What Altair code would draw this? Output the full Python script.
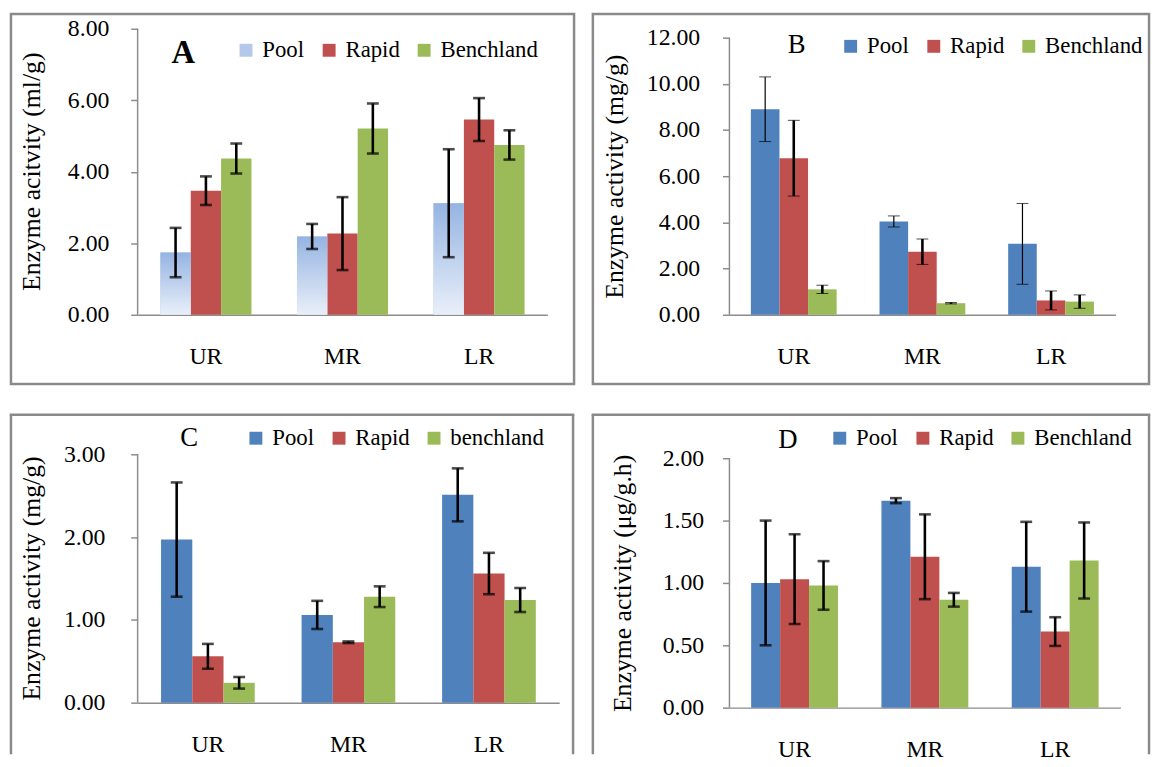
import altair as alt
import pandas as pd

FONT = "Liberation Serif"

categories = ["UR", "MR", "LR"]
series_std = ["Pool", "Rapid", "Benchland"]
series_c = ["Pool", "Rapid", "benchland"]

# Panel A (ml/g)
a_pool = [1.74, 2.19, 3.12]
a_pool_err = [0.69, 0.35, 1.51]
a_rapid = [3.47, 2.27, 5.46]
a_rapid_err = [0.40, 1.02, 0.60]
a_bench = [4.37, 5.21, 4.75]
a_bench_err = [0.42, 0.70, 0.41]

# Panel B (mg/g)
b_pool = [8.90, 4.04, 3.07]
b_pool_err = [1.40, 0.24, 1.75]
b_rapid = [6.78, 2.73, 0.62]
b_rapid_err = [1.64, 0.55, 0.41]
b_bench = [1.10, 0.50, 0.57]
b_bench_err = [0.18, 0.03, 0.29]

# Panel C (mg/g)
c_pool = [1.97, 1.06, 2.51]
c_pool_err = [0.69, 0.17, 0.32]
c_rapid = [0.56, 0.73, 1.56]
c_rapid_err = [0.15, 0.01, 0.25]
c_bench = [0.24, 1.28, 1.24]
c_bench_err = [0.07, 0.125, 0.145]

# Panel D (ug/g.h)
d_pool = [1.00, 1.66, 1.13]
d_pool_err = [0.50, 0.02, 0.36]
d_rapid = [1.03, 1.21, 0.61]
d_rapid_err = [0.36, 0.34, 0.115]
d_bench = [0.98, 0.865, 1.18]
d_bench_err = [0.195, 0.055, 0.305]

COLORS = ["#4f81bd", "#c0504d", "#9bbb59"]
COLORS_A = ["#b3c8ea", "#c0504d", "#9bbb59"]
AXIS_GRAY = "#8c8c8c"
FRAME_GRAY = "#8a8a8a"


def make_df(names, means, errs):
    rows = []
    for s, m, e in zip(names, means, errs):
        for c, v, d in zip(categories, m, e):
            rows.append({"cat": c, "series": s, "value": v, "lo": v - d, "hi": v + d})
    return pd.DataFrame(rows)


one = pd.DataFrame({"k": [0]})


def frame(geo):
    if geo["closed"]:
        return [alt.Chart(one).mark_rect(filled=False, stroke=FRAME_GRAY, strokeWidth=2.5).encode(
            x=alt.value(geo["bl"]), x2=alt.value(geo["br"]),
            y=alt.value(geo["bt"]), y2=alt.value(geo["bb"]))]
    # frame that runs off the bottom of the picture: left, top and right sides only
    r = dict(color=FRAME_GRAY, strokeWidth=2.5)
    return [
        alt.Chart(one).mark_rule(**r).encode(
            x=alt.value(geo["bl"]), y=alt.value(geo["bt"]), y2=alt.value(geo["bb"])),
        alt.Chart(one).mark_rule(**r).encode(
            x=alt.value(geo["br"]), y=alt.value(geo["bt"]), y2=alt.value(geo["bb"])),
        alt.Chart(one).mark_rule(**r).encode(
            x=alt.value(geo["bl"] - 1.25), x2=alt.value(geo["br"] + 1.25),
            y=alt.value(geo["bt"])),
    ]


def panel(df, names, colors, ymax, ystep, ytitle, letter, bold, geo,
          gradient_pool=False, thin_pool=False):
    w, h = geo["w"], geo["h"]
    x = alt.X("cat:N", sort=categories,
              scale=alt.Scale(paddingInner=1 / 3, paddingOuter=1 / 6),
              axis=alt.Axis(title=None, labelAngle=0, ticks=False, labelPadding=geo["xlp"],
                            labelFont=FONT, labelFontSize=24, labelColor="black",
                            domainColor=AXIS_GRAY, domainWidth=1.5, grid=False))
    xo = alt.XOffset("series:N", sort=names,
                     scale=alt.Scale(domain=names, paddingInner=0, paddingOuter=0))
    ticks_vals = []
    v = 0.0
    while v <= ymax + 1e-9:
        ticks_vals.append(round(v, 4))
        v += ystep
    # scale top stretched so that the plot tops of each row line up
    yscale = alt.Scale(domain=[0, ymax * geo["stretch"]], nice=False, zero=True)
    y = alt.Y("value:Q", scale=yscale,
              axis=alt.Axis(title=ytitle, values=ticks_vals, format=".2f", grid=False,
                            domain=False,
                            tickSize=7, tickColor=AXIS_GRAY, tickWidth=1.5,
                            labelFont=FONT, labelFontSize=24, labelColor="black",
                            labelPadding=geo["ylp"],
                            titleFont=FONT, titleFontSize=26, titleFontWeight="normal",
                            titleColor="black", titlePadding=geo["tp"],
                            titleY=geo["tyc"]))
    color = alt.Color("series:N", sort=names,
                      scale=alt.Scale(domain=names, range=colors),
                      legend=alt.Legend(title=None, orient="none", direction="horizontal",
                                        legendX=geo["lx"], legendY=geo["ly"],
                                        symbolType="square", symbolSize=170,
                                        symbolStrokeWidth=0, labelFont=FONT,
                                        labelFontSize=23, labelColor="black",
                                        labelOffset=5, columnPadding=13, padding=0))

    bars = alt.Chart(df).mark_bar().encode(x=x, xOffset=xo, y=y, color=color)
    layers = frame(geo) + [bars]
    if gradient_pool:
        grad = alt.Gradient(gradient="linear",
                            stops=[alt.GradientStop(color="#95b4e2", offset=0),
                                   alt.GradientStop(color="#e9eff9", offset=1)],
                            x1=0, x2=0, y1=0, y2=1)
        pool = alt.Chart(df).transform_filter(alt.datum.series == "Pool").mark_bar(
            color=grad).encode(x=x, xOffset=xo, y=y)
        layers.append(pool)

    yaxis_line = alt.Chart(one).mark_rule(color=AXIS_GRAY, strokeWidth=1.5).encode(
        x=alt.value(0), y=alt.datum(0), y2=alt.datum(ymax))
    layers.append(yaxis_line)

    if thin_pool:
        sw = alt.condition(alt.datum.series == "Pool", alt.value(1.2), alt.value(2.6))
        tk = alt.condition(alt.datum.series == "Pool", alt.value(1.2), alt.value(2.6))
        rule = alt.Chart(df).mark_rule(color="black").encode(
            x=x, xOffset=xo, y=alt.Y("lo:Q", scale=yscale), y2="hi:Q", strokeWidth=sw)
        cap_lo = alt.Chart(df).mark_tick(color="black", size=12).encode(
            x=x, xOffset=xo, y=alt.Y("lo:Q", scale=yscale), strokeWidth=tk)
        cap_hi = alt.Chart(df).mark_tick(color="black", size=12).encode(
            x=x, xOffset=xo, y=alt.Y("hi:Q", scale=yscale), strokeWidth=tk)
    else:
        rule = alt.Chart(df).mark_rule(color="black", strokeWidth=2.6).encode(
            x=x, xOffset=xo, y=alt.Y("lo:Q", scale=yscale), y2="hi:Q")
        cap_lo = alt.Chart(df).mark_tick(color="black", size=12, thickness=2.6).encode(
            x=x, xOffset=xo, y=alt.Y("lo:Q", scale=yscale))
        cap_hi = alt.Chart(df).mark_tick(color="black", size=12, thickness=2.6).encode(
            x=x, xOffset=xo, y=alt.Y("hi:Q", scale=yscale))
    layers += [rule, cap_lo, cap_hi]

    lbl = alt.Chart(one).mark_text(font=FONT, fontSize=geo["lfs"],
                                   fontWeight="bold" if bold else "normal",
                                   align="center", baseline="alphabetic",
                                   color="black").encode(
        x=alt.value(geo["tx"]), y=alt.value(geo["ty"]), text=alt.value(letter))
    layers.append(lbl)
    return alt.layer(*layers).properties(width=w, height=h)


geoA = dict(w=414, h=289, stretch=1.0, closed=True, bl=-128, br=441, bt=-15, bb=359,
            xlp=30, ylp=22, tp=23, tyc=144, lx=98, ly=10, tx=46, ty=35, lfs=33)
geoB = dict(w=390, h=289, stretch=289 / 280, closed=True, bl=-138, br=424, bt=-15, bb=359,
            xlp=30, ylp=23, tp=19, tyc=149, lx=111, ly=6, tx=68, ty=25, lfs=27)
geoC = dict(w=426, h=251, stretch=1.0, closed=False, bl=-128, br=440, bt=-40, bb=303,
            xlp=30, ylp=26, tp=19, tyc=125, lx=108, ly=-28, tx=52, ty=-8, lfs=27)
geoD = dict(w=395, h=256, stretch=256 / 252, closed=False, bl=-138, br=424, bt=-40, bb=303,
            xlp=30, ylp=19, tp=27, tyc=130, lx=100, ly=-28, tx=59, ty=-6, lfs=27)

pA = panel(make_df(series_std, [a_pool, a_rapid, a_bench], [a_pool_err, a_rapid_err, a_bench_err]),
           series_std, COLORS_A, 8, 2, "Enzyme acitvity (ml/g)", "A", True, geoA,
           gradient_pool=True)
pB = panel(make_df(series_std, [b_pool, b_rapid, b_bench], [b_pool_err, b_rapid_err, b_bench_err]),
           series_std, COLORS, 12, 2, "Enzyme activity (mg/g)", "B", False, geoB,
           thin_pool=True)
pC = panel(make_df(series_c, [c_pool, c_rapid, c_bench], [c_pool_err, c_rapid_err, c_bench_err]),
           series_c, COLORS, 3, 1, "Enzyme activity (mg/g)", "C", False, geoC)
pD = panel(make_df(series_std, [d_pool, d_rapid, d_bench], [d_pool_err, d_rapid_err, d_bench_err]),
           series_std, COLORS, 2, 0.5, "Enzyme activity (μg/g.h)", "D", False, geoD)

ind = dict(color="independent", x="independent", y="independent", xOffset="independent")
chart = alt.concat(pA, pB, pC, pD, columns=2, spacing={"row": 27, "column": 14}).resolve_scale(
    **ind).properties(padding=0, background="white").configure_view(stroke=None)

chart.save("out.html", embed_options={"renderer": "svg", "actions": False})
